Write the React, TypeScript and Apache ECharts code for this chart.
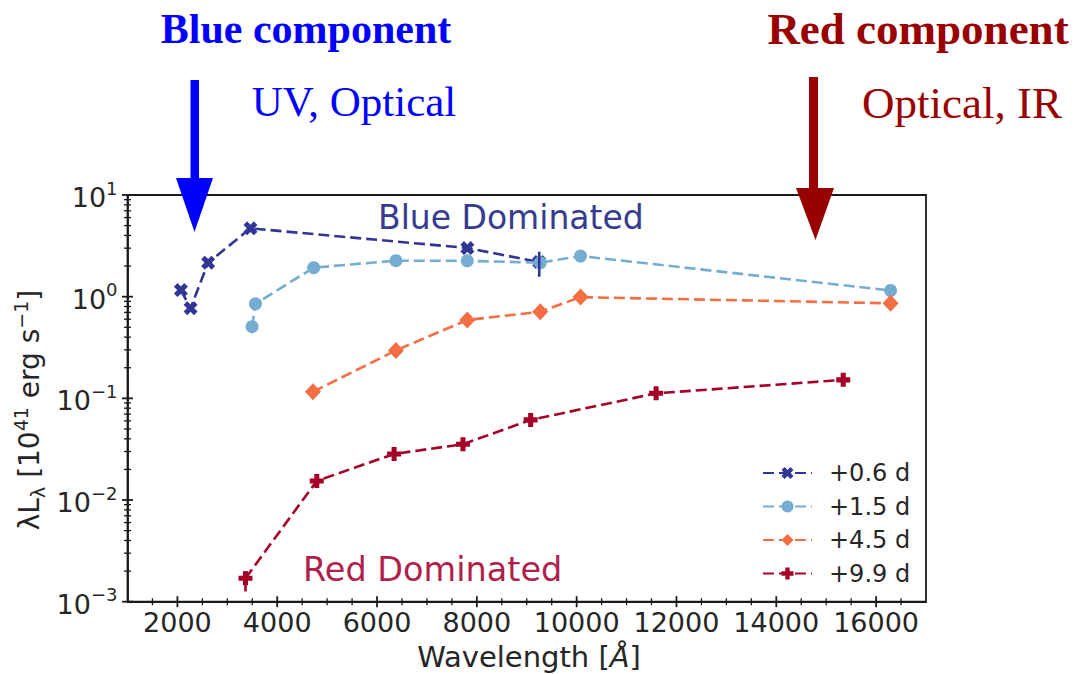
import React, { useEffect, useRef } from "react";
import * as echarts from "echarts";

// Light-curve SED epochs: wavelength (Å) and λLλ (10^41 erg s^-1)
const seriesNames = ["+0.6 d", "+1.5 d", "+4.5 d", "+9.9 d"];
const seriesColors = ["#313695", "#74add1", "#f46d43", "#a50026"];

const wave06 = [2070, 2264, 2616, 3464, 7810, 9250];
const lum06 = [1.16, 0.77, 2.16, 4.7, 3.01, 2.19];

const wave15 = [3496, 3564, 4730, 6378, 7808, 9270, 10078, 16290];
const lum15 = [0.507, 0.85, 1.93, 2.26, 2.25, 2.16, 2.51, 1.15];

const wave45 = [4716, 6378, 7808, 9270, 10078, 16290];
const lum45 = [0.116, 0.296, 0.59, 0.71, 0.99, 0.86];

const wave99 = [3364, 4792, 6342, 7722, 9078, 11592, 15342];
const lum99 = [0.0017, 0.0154, 0.0284, 0.0354, 0.0614, 0.112, 0.152];

// Visible error bars: [series index, wavelength, low, high]
const errorBars = [
  [0, 9250, 1.57, 2.77],
  [3, 3364, 0.00126, 0.00198],
];

// Axis ticks
const xMajorTicks = [2000, 4000, 6000, 8000, 10000, 12000, 14000, 16000];
const xMinorTicks = [
  1500, 2500, 3000, 3500, 4500, 5000, 5500, 6500, 7000, 7500, 8500, 9000, 9500,
  10500, 11000, 11500, 12500, 13000, 13500, 14500, 15000, 15500, 16500,
];
const yMajorTicks = [0.001, 0.01, 0.1, 1, 10];
const yTickExponents = ["−3", "−2", "−1", "0", "1"];
const yMinorMultipliers = [2, 3, 4, 5, 6, 7, 8, 9];

const X_MIN = 1000;
const X_MAX = 17000;
const Y_MIN = 0.001;
const Y_MAX = 10;

const SYMBOL_X =
  "path://M2.6,0 L5,2.4 L7.4,0 L10,2.6 L7.6,5 L10,7.4 L7.4,10 L5,7.6 L2.6,10 L0,7.4 L2.4,5 L0,2.6 Z";
const SYMBOL_P =
  "path://M3.2,0 H6.8 V3.2 H10 V6.8 H6.8 V10 H3.2 V6.8 H0 V3.2 H3.2 Z";

const FONT = "DejaVu Sans";
const SERIF = "Liberation Serif";
const INK = "#1a1a1a";
const TEXT = "#262626";

function zip(xs: number[], ys: number[]) {
  return xs.map((x, i) => [x, ys[i]]);
}

export default function App() {
  const ref = useRef<HTMLDivElement>(null);

  useEffect(() => {
    if (!ref.current) return;
    const chart = echarts.init(ref.current, undefined, { renderer: "svg" });

    const yMinorTicks: number[] = [];
    for (let k = 0; k < yMajorTicks.length - 1; k++) {
      for (const m of yMinorMultipliers) yMinorTicks.push(yMajorTicks[k] * m);
    }

    const xTickData = [
      ...xMajorTicks.map((v) => [v, Y_MIN, 1]),
      ...xMinorTicks.map((v) => [v, Y_MIN, 0]),
    ];
    const yTickData = [
      ...yMajorTicks.map((v) => [X_MIN, v, 1]),
      ...yMinorTicks.map((v) => [X_MIN, v, 0]),
    ];

    const lineSeries = [
      { data: zip(wave06, lum06), symbol: SYMBOL_X, symbolSize: 14 },
      { data: zip(wave15, lum15), symbol: "circle", symbolSize: 13 },
      { data: zip(wave45, lum45), symbol: "diamond", symbolSize: [16, 17] },
      { data: zip(wave99, lum99), symbol: SYMBOL_P, symbolSize: 14 },
    ].map((s, i) => ({
      name: seriesNames[i],
      type: "line",
      data: s.data,
      symbol: s.symbol,
      symbolSize: s.symbolSize,
      showAllSymbol: true,
      itemStyle: { color: seriesColors[i], opacity: 1 },
      lineStyle: { color: seriesColors[i], width: 2.6, type: [11, 5] },
      z: 3 + i,
    }));

    const option: any = {
      animation: false,
      backgroundColor: "#ffffff",
      grid: {
        left: 127.5,
        right: 152,
        top: 195,
        bottom: 72.3,
        show: true,
        borderColor: INK,
        borderWidth: 1.8,
        backgroundColor: "transparent",
      },
      legend: {
        data: seriesNames,
        orient: "vertical",
        left: 757,
        top: 456,
        itemWidth: 49,
        itemHeight: 15,
        itemGap: 9.5,
        textStyle: {
          fontFamily: FONT,
          fontSize: 24,
          color: TEXT,
          padding: [0, 0, 0, 12],
        },
      },
      xAxis: {
        type: "value",
        min: X_MIN,
        max: X_MAX,
        axisLine: { show: true, onZero: false, lineStyle: { color: INK, width: 1.8 } },
        axisTick: { show: false },
        splitLine: { show: false },
        axisLabel: {
          customValues: xMajorTicks,
          formatter: (v: number) => String(v),
          margin: 7,
          fontFamily: FONT,
          fontSize: 27,
          color: TEXT,
        },
      },
      yAxis: {
        type: "log",
        logBase: 10,
        min: Y_MIN,
        max: Y_MAX,
        axisLine: { show: true, onZero: false, lineStyle: { color: INK, width: 1.8 } },
        axisTick: { show: false },
        splitLine: { show: false },
        axisLabel: {
          margin: 10,
          formatter: (v: number) => {
            const idx = Math.round(Math.log10(v)) + 3;
            return `{b|10}{s|${yTickExponents[idx] ?? ""}}`;
          },
          rich: {
            b: { fontFamily: FONT, fontSize: 27, color: TEXT, lineHeight: 32, verticalAlign: "bottom" },
            s: { fontFamily: FONT, fontSize: 18, color: TEXT, lineHeight: 20, verticalAlign: "top" },
          },
        },
      },
      series: [
        ...lineSeries,
        {
          name: "errorbars",
          type: "custom",
          data: errorBars.map((e) => [e[1], e[2], e[3]]),
          encode: { x: 0, y: [1, 2] },
          z: 10,
          silent: true,
          renderItem: (params: any, api: any) => {
            const x = api.value(0);
            const a = api.coord([x, api.value(1)]);
            const b = api.coord([x, api.value(2)]);
            const color = seriesColors[errorBars[params.dataIndex][0]];
            return {
              type: "line",
              shape: { x1: a[0], y1: a[1], x2: b[0], y2: b[1] },
              style: { stroke: color, lineWidth: 2.6 },
            };
          },
        },
        {
          name: "xticks",
          type: "custom",
          data: xTickData,
          encode: { x: 0, y: 1 },
          clip: false,
          silent: true,
          z: 20,
          renderItem: (params: any, api: any) => {
            const p = api.coord([api.value(0), api.value(1)]);
            const major = api.value(2) === 1;
            const half = major ? 5.5 : 3.5;
            return {
              type: "line",
              shape: { x1: p[0], y1: p[1] - half, x2: p[0], y2: p[1] + half },
              style: { stroke: INK, lineWidth: major ? 1.8 : 1.3 },
            };
          },
        },
        {
          name: "yticks",
          type: "custom",
          data: yTickData,
          encode: { x: 0, y: 1 },
          clip: false,
          silent: true,
          z: 20,
          renderItem: (params: any, api: any) => {
            const p = api.coord([api.value(0), api.value(1)]);
            const major = api.value(2) === 1;
            const half = major ? 5.5 : 3.5;
            return {
              type: "line",
              shape: { x1: p[0] - half, y1: p[1], x2: p[0] + half, y2: p[1] },
              style: { stroke: INK, lineWidth: major ? 1.8 : 1.3 },
            };
          },
        },
      ],
      graphic: [
        // Header annotations
        {
          type: "text",
          x: 306,
          y: 29,
          style: {
            text: "Blue component",
            fontFamily: SERIF,
            fontWeight: "bold",
            fontSize: 42,
            fill: "#0000ff",
            align: "center",
            verticalAlign: "middle",
          },
        },
        {
          type: "text",
          x: 354,
          y: 101,
          style: {
            text: "UV, Optical",
            fontFamily: SERIF,
            fontSize: 43,
            fill: "#0000ff",
            align: "center",
            verticalAlign: "middle",
          },
        },
        {
          type: "text",
          x: 918,
          y: 29,
          style: {
            text: "Red component",
            fontFamily: SERIF,
            fontWeight: "bold",
            fontSize: 45,
            fill: "#990000",
            align: "center",
            verticalAlign: "middle",
          },
        },
        {
          type: "text",
          x: 962,
          y: 103,
          style: {
            text: "Optical, IR",
            fontFamily: SERIF,
            fontSize: 45,
            fill: "#990000",
            align: "center",
            verticalAlign: "middle",
          },
        },
        // Arrows
        { type: "rect", shape: { x: 190.5, y: 80, width: 8.5, height: 100 }, style: { fill: "#0000ff" } },
        {
          type: "polygon",
          shape: { points: [[176, 178], [213, 178], [194.5, 232]] },
          style: { fill: "#0000ff" },
        },
        { type: "rect", shape: { x: 809, y: 77, width: 9, height: 113 }, style: { fill: "#990000" } },
        {
          type: "polygon",
          shape: { points: [[796, 188], [834, 188], [815.5, 240]] },
          style: { fill: "#990000" },
          z: 50,
        },
        // In-plot region labels
        {
          type: "text",
          x: 378,
          y: 217,
          z: 30,
          style: {
            text: "Blue Dominated",
            fontFamily: FONT,
            fontSize: 33,
            fill: "#363c8f",
            align: "left",
            verticalAlign: "middle",
          },
        },
        {
          type: "text",
          x: 303,
          y: 569,
          z: 30,
          style: {
            text: "Red Dominated",
            fontFamily: FONT,
            fontSize: 33.5,
            fill: "#b01f4b",
            align: "left",
            verticalAlign: "middle",
          },
        },
        // Axis titles
        {
          type: "text",
          x: 529,
          y: 657,
          style: {
            text: "Wavelength [{i|Å}]",
            fontFamily: FONT,
            fontSize: 29,
            fill: TEXT,
            align: "center",
            verticalAlign: "middle",
            rich: {
              i: { fontFamily: FONT, fontStyle: "italic", fontSize: 29, fill: TEXT },
            },
          },
        },
        {
          type: "text",
          x: 29,
          y: 410,
          rotation: Math.PI / 2,
          style: {
            text: "{a|λ}{a|L}{sub|λ}{a| [10}{sup|41}{a| erg s}{sup|−1}{a|]}",
            align: "center",
            verticalAlign: "middle",
            rich: {
              a: { fontFamily: FONT, fontSize: 28, fill: TEXT, lineHeight: 36, verticalAlign: "middle" },
              sup: { fontFamily: FONT, fontSize: 19, fill: TEXT, lineHeight: 22, verticalAlign: "top" },
              sub: { fontFamily: FONT, fontSize: 19, fill: TEXT, lineHeight: 22, verticalAlign: "bottom" },
            },
          },
        },
      ],
    };

    chart.setOption(option);
    return () => chart.dispose();
  }, []);

  return (
    <div
      ref={ref}
      style={{ position: "absolute", left: 0, top: 0, width: 1078, height: 674, background: "#ffffff" }}
    />
  );
}
